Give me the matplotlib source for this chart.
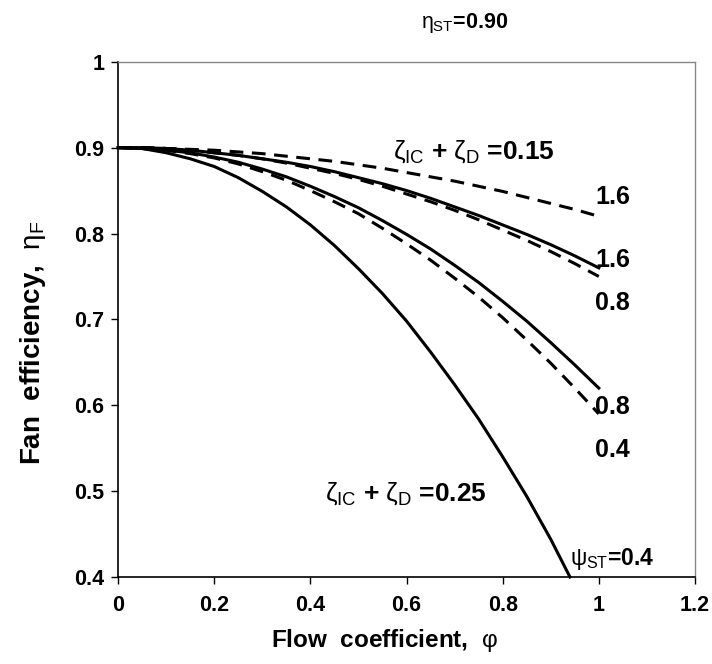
import matplotlib
matplotlib.use("Agg")
import matplotlib.pyplot as plt

plt.rcParams['font.family'] = ['Liberation Sans', 'DejaVu Sans']
plt.rcParams['mathtext.fontset'] = 'custom'
plt.rcParams['mathtext.rm'] = 'Liberation Sans'
plt.rcParams['mathtext.it'] = 'Liberation Sans'
plt.rcParams['mathtext.bf'] = 'Liberation Sans:bold'

# Data
phi = [0.0, 0.05, 0.1, 0.15, 0.2, 0.25, 0.3, 0.35, 0.4, 0.45, 0.5,
       0.55, 0.6, 0.65, 0.7, 0.75, 0.8, 0.85, 0.9, 0.95, 1.0]
phi_steep = [0.0, 0.05, 0.1, 0.15, 0.2, 0.25, 0.3, 0.35, 0.4, 0.45, 0.5,
             0.55, 0.6, 0.65, 0.7, 0.75, 0.8, 0.85, 0.9, 0.94]

# zeta_IC + zeta_D = 0.15 (dashed)
eta_015_psi16 = [0.900, 0.900, 0.899, 0.898, 0.897, 0.895, 0.893, 0.890, 0.887, 0.884, 0.880,
                 0.876, 0.871, 0.866, 0.861, 0.855, 0.849, 0.842, 0.835, 0.828, 0.820]
eta_015_psi08 = [0.900, 0.900, 0.899, 0.897, 0.894, 0.891, 0.887, 0.882, 0.876, 0.870, 0.863,
                 0.855, 0.846, 0.837, 0.827, 0.816, 0.804, 0.792, 0.779, 0.765, 0.750]
eta_015_psi04 = [0.900, 0.899, 0.897, 0.893, 0.888, 0.881, 0.872, 0.862, 0.850, 0.837, 0.823,
                 0.806, 0.788, 0.769, 0.748, 0.726, 0.702, 0.676, 0.649, 0.620, 0.590]
# zeta_IC + zeta_D = 0.25 (solid)
eta_025_psi16 = [0.900, 0.900, 0.899, 0.897, 0.894, 0.891, 0.887, 0.883, 0.878, 0.872, 0.865,
                 0.858, 0.850, 0.841, 0.831, 0.821, 0.810, 0.799, 0.787, 0.774, 0.760]
eta_025_psi08 = [0.900, 0.899, 0.897, 0.894, 0.889, 0.883, 0.875, 0.866, 0.855, 0.843, 0.830,
                 0.815, 0.799, 0.782, 0.763, 0.743, 0.721, 0.698, 0.673, 0.647, 0.620]
eta_025_psi04 = [0.900, 0.899, 0.894, 0.887, 0.878, 0.865, 0.849, 0.831, 0.810, 0.786, 0.759,
                 0.730, 0.698, 0.662, 0.624, 0.584, 0.540, 0.494, 0.444, 0.400]

end_labels = ["1.6", "1.6", "0.8", "0.8", "0.4"]
end_label_y = [0.843, 0.769, 0.719, 0.598, 0.548]

x_ticks = [0, 0.2, 0.4, 0.6, 0.8, 1.0, 1.2]
x_tick_labels = ["0", "0.2", "0.4", "0.6", "0.8", "1", "1.2"]
y_ticks = [0.4, 0.5, 0.6, 0.7, 0.8, 0.9, 1.0]
y_tick_labels = ["0.4", "0.5", "0.6", "0.7", "0.8", "0.9", "1"]

fig = plt.figure(figsize=(7.12, 6.64), dpi=100)
ax = fig.add_axes([0.166, 0.131, 0.810, 0.776])

lw = 2.2
dash = (4.5, 2.8)
for y in (eta_015_psi16, eta_015_psi08, eta_015_psi04):
    ax.plot(phi, y, color='black', lw=lw, linestyle=(0, dash), clip_on=False)
for y in (eta_025_psi16, eta_025_psi08):
    ax.plot(phi, y, color='black', lw=lw, clip_on=False)
ax.plot(phi_steep, eta_025_psi04, color='black', lw=lw, clip_on=False)

ax.set_xlim(0, 1.2)
ax.set_ylim(0.4, 1.0)
ax.set_xticks(x_ticks)
ax.set_xticklabels(x_tick_labels)
ax.set_yticks(y_ticks)
ax.set_yticklabels(y_tick_labels)
ax.tick_params(direction='out', length=5, width=1, labelsize=15.5, pad=5)
ax.tick_params(axis='x', pad=8)
for lab in ax.get_xticklabels() + ax.get_yticklabels():
    lab.set_fontweight('bold')

for s in ('left', 'bottom'):
    ax.spines[s].set_color('black')
    ax.spines[s].set_linewidth(1.2)
for s in ('top', 'right'):
    ax.spines[s].set_color('#888888')
    ax.spines[s].set_linewidth(1.0)

ax.set_xlabel(r"Flow  coefficient,  $\varphi$", fontsize=17.5, fontweight='bold',
              va='center', ha='center')
ax.xaxis.set_label_coords(0.461, -0.124)
ax.set_ylabel(r"Fan  efficiency,  $\eta_{\mathrm{F}}$", fontsize=20, fontweight='bold',
              va='center', ha='center')
ax.yaxis.set_label_coords(-0.147, 0.455)

for lab, yv in zip(end_labels, end_label_y):
    ax.text(0.992, yv, lab, fontsize=18, fontweight='bold', ha='left', va='center')

ax.text(0.572, 0.895, r"$\zeta_{\mathrm{IC}}$ + $\zeta_{\mathrm{D}}$ =0.15",
        fontsize=19, fontweight='bold', ha='left', va='center')
ax.text(0.43, 0.497, r"$\zeta_{\mathrm{IC}}$ + $\zeta_{\mathrm{D}}$ =0.25",
        fontsize=19, fontweight='bold', ha='left', va='center')
ax.text(0.94, 0.421, r"$\psi_{\mathrm{ST}}$=0.4", fontsize=16.5, fontweight='bold',
        ha='left', va='center')

fig.text(0.653, 0.965, r"$\eta_{\mathrm{ST}}$=0.90", fontsize=15.5, fontweight='bold',
         ha='center', va='center')

fig.savefig("out.png", dpi=100)
